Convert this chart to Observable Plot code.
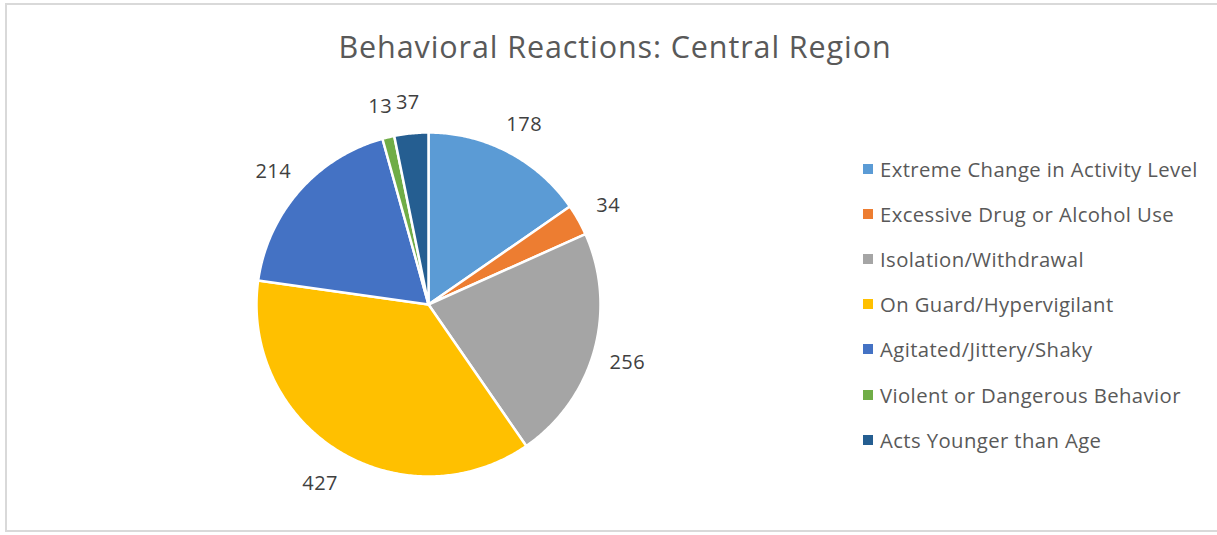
<!DOCTYPE html>
<html><head><meta charset="utf-8">
<script src="https://cdn.jsdelivr.net/npm/d3@7"></script>
<script src="https://cdn.jsdelivr.net/npm/@observablehq/plot@0.6"></script>
<style>
html,body{margin:0;padding:0;background:#fff;}
#frame{position:relative;width:1217px;height:535px;overflow:hidden;font-family:"Open Sans",sans-serif;color:#595959;}
#border{position:absolute;left:5px;top:3px;width:1230px;height:529px;border:2px solid #d9d9d9;border-right:none;box-sizing:border-box;}
#title{position:absolute;left:0;top:24px;width:1230px;text-align:center;font-size:30.5px;letter-spacing:0.9px;line-height:44px;}
#chart{position:absolute;left:0;top:80px;}
#legend{position:absolute;left:863px;top:146px;font-size:20.3px;letter-spacing:0.4px;}
#legend .row{height:45.2px;display:flex;align-items:center;}
#legend .sw{width:10px;height:10px;margin-right:7px;}
</style></head>
<body>
<div id="frame">
<div id="border"></div>
<div id="title"></div>
<div id="chart"></div>
<div id="legend"></div>
</div>
<script>
const title = "Behavioral Reactions: Central Region";
const categories = ["Extreme Change in Activity Level","Excessive Drug or Alcohol Use","Isolation/Withdrawal","On Guard/Hypervigilant","Agitated/Jittery/Shaky","Violent or Dangerous Behavior","Acts Younger than Age"];
const values = [178, 34, 256, 427, 214, 13, 37];
const colors = ["#5B9BD5","#ED7D31","#A5A5A5","#FFC000","#4472C4","#70AD47","#255E91"];

document.getElementById("title").textContent = title;

const arcs = d3.pie().sort(null).value(d => d.value)(categories.map((c,i)=>({category:c, value:values[i]})));
// polygon points in unit-circle coordinates for each wedge
const wedgePts = [];
arcs.forEach(a => {
  const n = Math.max(2, Math.ceil((a.endAngle - a.startAngle) / 0.01));
  wedgePts.push({category:a.data.category, u:0, v:0});
  for (let k = 0; k <= n; k++) {
    const t = a.startAngle + (a.endAngle - a.startAngle) * k / n;
    wedgePts.push({category:a.data.category, u:Math.sin(t), v:Math.cos(t)});
  }
});
const labelR = 1.2;
const labels = arcs.map(a => {
  const m = (a.startAngle + a.endAngle) / 2;
  return {category:a.data.category, value:a.data.value, u:labelR*Math.sin(m), v:labelR*Math.cos(m)};
});

const W = 1217, H = 440, cx = 428, cy = 224, R = 172;
const chart = Plot.plot({
  width: W, height: H,
  margin: 0,
  x: {domain: [-cx/R, (W-cx)/R], axis: null},
  y: {domain: [(cy-H)/R, cy/R], axis: null},
  color: {domain: categories, range: colors},
  style: {fontFamily: "'Open Sans', sans-serif", letterSpacing: "0.5px"},
  marks: [
    Plot.line(wedgePts, {x:"u", y:"v", z:"category", fill:"category", stroke:"white", strokeWidth:2.5, curve:"linear-closed"}),
    Plot.text(labels, {x:"u", y:"v", text:"value", fill:"#404040", fontSize:20, dy:3})
  ]
});
document.getElementById("chart").appendChild(chart);

const leg = document.getElementById("legend");
categories.forEach((c,i) => {
  const row = document.createElement("div"); row.className="row";
  const sw = document.createElement("div"); sw.className="sw"; sw.style.background = colors[i];
  const t = document.createElement("span"); t.textContent = c;
  row.appendChild(sw); row.appendChild(t); leg.appendChild(row);
});
</script>
</body></html>
